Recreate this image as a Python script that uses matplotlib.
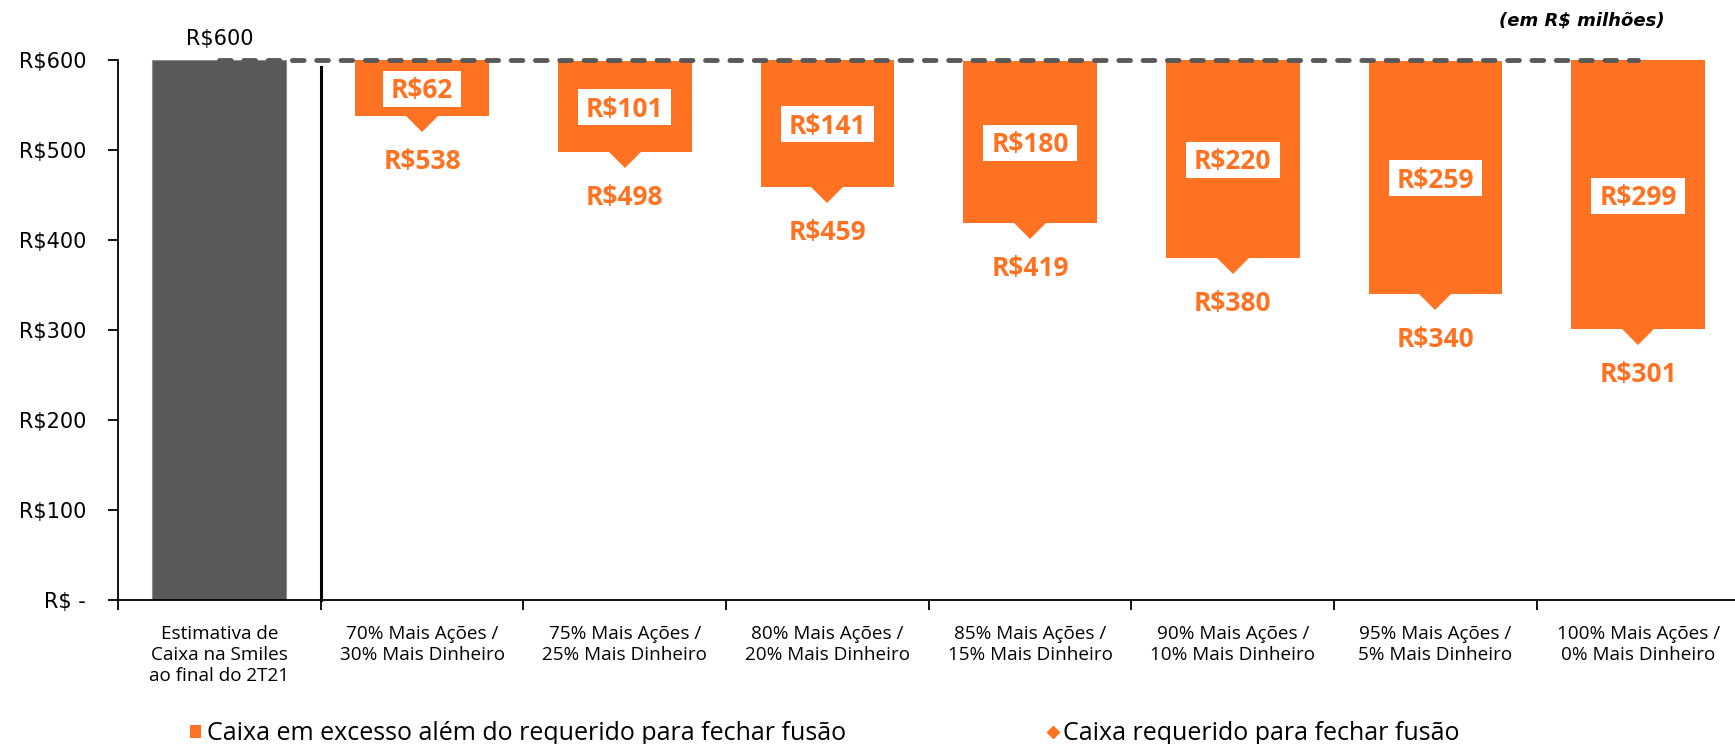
import matplotlib
matplotlib.use("Agg")
import matplotlib.pyplot as plt
from matplotlib.patches import Patch, Rectangle
from matplotlib.lines import Line2D

plt.rcParams['font.family'] = ['Open Sans', 'DejaVu Sans']

# ---- data ----
categories = [
    "Estimativa de\nCaixa na Smiles\nao final do 2T21",
    "70% Mais Ações /\n30% Mais Dinheiro",
    "75% Mais Ações /\n25% Mais Dinheiro",
    "80% Mais Ações /\n20% Mais Dinheiro",
    "85% Mais Ações /\n15% Mais Dinheiro",
    "90% Mais Ações /\n10% Mais Dinheiro",
    "95% Mais Ações /\n5% Mais Dinheiro",
    "100% Mais Ações /\n0% Mais Dinheiro",
]
cash_total = 600
excess = [62, 101, 141, 180, 220, 259, 299]
required = [538, 498, 459, 419, 380, 340, 301]
yticks = [0, 100, 200, 300, 400, 500, 600]
ytick_labels = ["R$ -", "R$100", "R$200", "R$300", "R$400", "R$500", "R$600"]
legend_excess = "Caixa em excesso além do requerido para fechar fusão"
legend_required = "Caixa requerido para fechar fusão"
unit_note = "(em R$ milhões)"

ORANGE = "#FF7222"
GREY = "#595959"

W, H = 1735, 744
fig = plt.figure(figsize=(W / 100, H / 100), dpi=100)
ax = fig.add_axes([118 / W, 1 - 600 / H, (1739.5 - 118) / W, 540 / H])

n = len(categories)
xs = list(range(n))
bw = 0.66

# grey bar
ax.bar([0], [cash_total], width=bw, color=GREY, edgecolor="#8c8c8c",
       linewidth=0.8, zorder=2)
ax.annotate(f"R${cash_total}", xy=(0, cash_total), xytext=(0, 11),
            textcoords="offset points", ha="center", va="baseline",
            fontsize=15, family="DejaVu Sans", color="black",
            annotation_clip=False)

# orange bars
ox = xs[1:]
ax.bar(ox, excess, bottom=required, width=bw, color=ORANGE,
       edgecolor="none", zorder=2)
ax.plot(ox, required, linestyle="none", marker="D", markersize=16.5,
        color=ORANGE, markeredgewidth=0, zorder=2.5, clip_on=False)

inner_texts = []
for x, e, r in zip(ox, excess, required):
    t = ax.text(x, r + e / 2, f"R${e}", ha="center", va="center_baseline",
                fontsize=19, fontweight="bold", color=ORANGE, zorder=5)
    inner_texts.append((t, x, r + e / 2))
    ax.annotate(f"R${r}", xy=(x, r), xytext=(0, -33), textcoords="offset points",
                ha="center", va="center", fontsize=19, fontweight="bold",
                color=ORANGE, annotation_clip=False)

# dashed reference line
ax.plot([0, n - 1], [cash_total, cash_total], color=GREY, linewidth=3.5,
        linestyle=(0, (2.4, 2.6)), dash_capstyle="round", zorder=3, clip_on=False)

# separator line
ax.plot([0.5, 0.5], [0, 592], color="black", linewidth=2.2, zorder=3, clip_on=False)

ax.set_xlim(-0.5, n - 0.5)
ax.set_ylim(0, 600)

for s in ["top", "right"]:
    ax.spines[s].set_visible(False)
for s in ["left", "bottom"]:
    ax.spines[s].set_linewidth(1.3)

ax.set_yticks(yticks)
ax.set_yticklabels(ytick_labels, fontsize=15, family="DejaVu Sans")
ax.tick_params(axis="y", length=7, width=1.3, pad=16)

ax.set_xticks([i - 0.5 for i in range(n + 1)])
ax.set_xticklabels([])
ax.set_xticks(xs, minor=True)
ax.set_xticklabels(categories, minor=True, fontsize=13.6, linespacing=1.2)
ax.tick_params(axis="x", which="major", length=7, width=1.3)
ax.tick_params(axis="x", which="minor", length=0, pad=18)

# white boxes behind inner labels, sized from the rendered text
fig.canvas.draw()
renderer = fig.canvas.get_renderer()
for t, x, y in inner_texts:
    bb = t.get_window_extent(renderer)
    cx, cy = ax.transData.transform((x, y))
    bw_px = bb.width + 16
    bh_px = 36
    x0, y0 = ax.transAxes.inverted().transform((cx - bw_px / 2, cy - bh_px / 2 - 1))
    x1, y1 = ax.transAxes.inverted().transform((cx + bw_px / 2, cy + bh_px / 2 - 1))
    ax.add_patch(Rectangle((x0, y0), x1 - x0, y1 - y0, transform=ax.transAxes,
                           facecolor="white", edgecolor="none", zorder=4))

# unit note
fig.text(1665 / W, 1 - 21 / H, unit_note, ha="right", va="center", fontsize=13,
         fontweight="bold", fontstyle="italic", family="DejaVu Sans")

# legends
h1 = Patch(facecolor=ORANGE, edgecolor="none")
fig.legend([h1], [legend_excess], loc="center left",
           bbox_to_anchor=(190 / W, 1 - 734 / H), frameon=False,
           fontsize=18, handlelength=0.42, handleheight=0.42,
           handletextpad=0.25, borderpad=0, borderaxespad=0)
h2 = Line2D([], [], linestyle="none", marker="D", markersize=6, color=ORANGE)
fig.legend([h2], [legend_required], loc="center left",
           bbox_to_anchor=(1045 / W, 1 - 734 / H), frameon=False,
           fontsize=18, handlelength=0.6, handletextpad=0.1,
           borderpad=0, borderaxespad=0)

fig.savefig("out.png", dpi=100)
